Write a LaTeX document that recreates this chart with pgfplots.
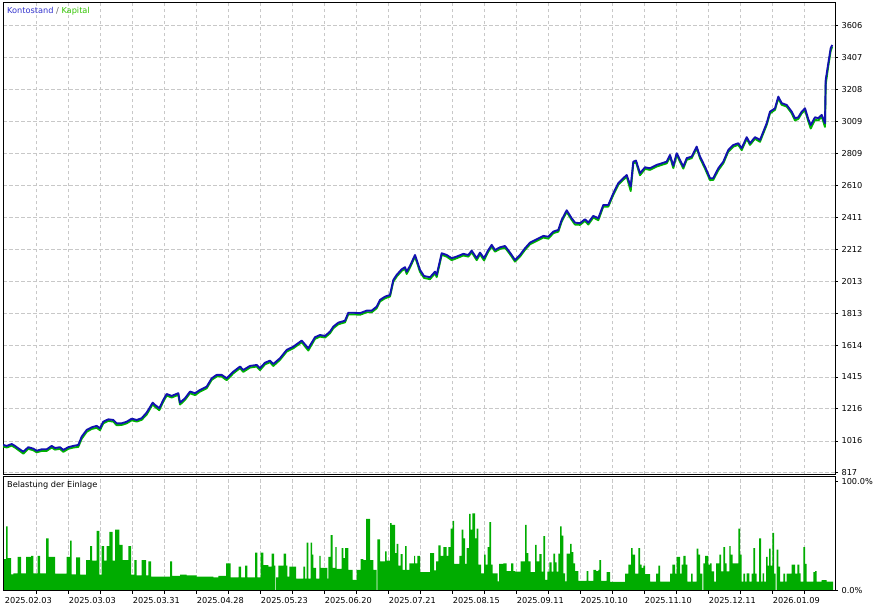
\documentclass[border=0pt]{standalone}
\usepackage{pgfplots}
\pgfplotsset{compat=1.18}
\usepackage{fontspec}
\setmainfont{DejaVu Sans}
\definecolor{bal}{RGB}{18,18,175}
\definecolor{eq}{RGB}{0,180,0}
\definecolor{load}{RGB}{0,172,0}
\definecolor{gridc}{RGB}{200,200,200}
\definecolor{legb}{RGB}{50,50,205}
\definecolor{legg}{RGB}{50,195,0}
\begin{document}
\begin{tikzpicture}[x=1pt,y=1pt]
\useasboundingbox (0,0) rectangle (876,605);
\pgfplotsset{
  mt/.style={
    scale only axis, width=832pt, xmin=3, xmax=835,
    /pgf/number format/assume math mode=true,
    ticklabel style={font=\fontsize{8.2}{9}\selectfont, text=black},
    axis line style={black, line width=1pt},
    major grid style={gridc, line width=0.9pt, dash pattern=on 3.5pt off 2.5pt},
    tick style={black, line width=0.8pt},
    major tick length=3pt, tick align=outside,
    xtick={36.3,68.3,100.3,132.3,164.3,196.3,228.3,260.3,292.3,324.3,356.3,388.3,420.3,452.3,484.3,516.3,548.3,580.3,612.3,644.3,676.3,708.3,740.3,772.3,804.3},
    xmajorgrids, ytick pos=right,
  }
}
% ---------- top panel ----------
\begin{axis}[mt, at={(3pt,130.7pt)}, anchor=south west, height=471.3pt,
  ymin=808, ymax=3748, ymajorgrids,
  xticklabels={}, xtick style={draw=none},
  ytick={817,1016,1216,1415,1614,1813,2013,2212,2411,2610,2809,3009,3208,3407,3606},
  yticklabels={817,1016,1216,1415,1614,1813,2013,2212,2411,2610,2809,3009,3208,3407,3606},
]
\addplot[eq, line width=1.9pt, line join=round] coordinates {
(3.3,981) (6.7,975) (11.7,987) (15,975) (18.3,960) (23.3,937) (28.3,967) (33.3,958) (36.7,945) (41.7,954) (46.7,954) (51.7,975) (55,962) (60,967) (63.3,948) (68.3,967) (73.3,975) (78.3,979) (81.7,1030) (86.7,1073) (91.7,1091) (96.7,1098) (100,1083) (103.3,1126) (108.3,1141) (113.3,1137) (116.7,1114) (121.7,1116) (126.7,1126) (131.7,1145) (136.7,1137) (141.7,1148) (146.7,1181) (152.7,1245) (155,1229) (159.3,1208) (163.3,1262) (166.7,1299) (171.7,1287) (178.3,1304) (180,1243) (185,1272) (190,1314) (195,1302) (200,1324) (206.7,1345) (211.7,1397) (216.7,1418) (221.7,1418) (226.7,1395) (233.3,1438) (240,1470) (243.3,1447) (250,1474) (256.7,1480) (260,1458) (265,1494) (270,1507) (273.3,1484) (280,1522) (286.7,1574) (293.3,1594) (301.7,1632) (308.3,1580) (315,1653) (320,1667) (325,1661) (330,1688) (333.3,1719) (338.3,1744) (345,1756) (348.3,1806) (353.3,1806) (360,1803) (366.7,1819) (371.7,1819) (376.7,1844) (380,1886) (385,1906) (390,1917) (393.3,2010) (396.7,2042) (401.7,2077) (405,2090) (406.7,2058) (410,2098) (415,2166) (420,2071) (424,2033) (430,2025) (435,2062) (436.7,2038) (441.7,2177) (446.7,2166) (451.7,2144) (456.7,2156) (463.3,2173) (468.3,2166) (471.7,2193) (476.7,2144) (480,2181) (484,2142) (488.3,2197) (491.7,2229) (495,2197) (500,2214) (505,2222) (510,2181) (515,2135) (520,2166) (525,2208) (530,2243) (536.7,2264) (543.3,2285) (548.3,2278) (553.3,2312) (558.3,2322) (561.7,2385) (566.7,2445) (571.7,2395) (575,2366) (580,2364) (585,2389) (588.3,2366) (593.3,2410) (598.3,2393) (603.3,2478) (608.3,2478) (613.3,2551) (618.3,2614) (623.3,2645) (626.7,2665) (630.7,2575) (633.3,2748) (636,2755) (640,2674) (645,2713) (650,2707) (656.7,2728) (661.7,2738) (666.7,2748) (670,2790) (673.3,2718) (676.7,2801) (683.3,2715) (686.7,2770) (691.7,2780) (696.7,2842) (700,2780) (705,2715) (710,2643) (713.3,2645) (718.3,2705) (723.3,2748) (728.3,2821) (733.3,2852) (738.3,2863) (741.7,2830) (746.7,2901) (750,2863) (755,2901) (760,2882) (763.3,2935) (766.7,2988) (770,3060) (775,3081) (778.3,3154) (781.7,3113) (786.7,3102) (791.7,3060) (795,3015) (798.3,3025) (801.7,3060) (805,3081) (808.3,3010) (810.7,2965) (815,3020) (818.3,3015) (821.7,3040) (825,2975) (825.7,3240) (828.3,3355) (830.7,3450) (832.3,3476)
};
\addplot[bal, line width=1.9pt, line join=round] coordinates {
(3.3,991) (6.7,985) (11.7,997) (15,985) (18.3,970) (23.3,949) (28.3,977) (33.3,968) (36.7,955) (41.7,964) (46.7,964) (51.7,985) (55,972) (60,977) (63.3,960) (68.3,977) (73.3,985) (78.3,991) (81.7,1043) (86.7,1085) (91.7,1101) (96.7,1110) (100,1095) (103.3,1136) (108.3,1151) (113.3,1147) (116.7,1126) (121.7,1126) (126.7,1136) (131.7,1155) (136.7,1147) (141.7,1158) (146.7,1193) (152.7,1255) (155,1241) (159.3,1220) (163.3,1272) (166.7,1309) (171.7,1297) (178.3,1314) (180,1255) (185,1282) (190,1324) (195,1314) (200,1334) (206.7,1355) (211.7,1407) (216.7,1428) (221.7,1428) (226.7,1407) (233.3,1448) (240,1480) (243.3,1459) (250,1484) (256.7,1490) (260,1470) (265,1504) (270,1517) (273.3,1496) (280,1532) (286.7,1584) (293.3,1604) (301.7,1642) (308.3,1594) (315,1663) (320,1677) (325,1671) (330,1698) (333.3,1729) (338.3,1754) (345,1766) (348.3,1816) (353.3,1816) (360,1813) (366.7,1829) (371.7,1829) (376.7,1854) (380,1896) (385,1916) (390,1927) (393.3,2020) (396.7,2052) (401.7,2087) (405,2100) (406.7,2072) (410,2108) (415,2176) (420,2083) (424,2045) (430,2037) (435,2072) (436.7,2052) (441.7,2187) (446.7,2176) (451.7,2156) (456.7,2166) (463.3,2183) (468.3,2176) (471.7,2203) (476.7,2156) (480,2191) (484,2156) (488.3,2207) (491.7,2239) (495,2207) (500,2224) (505,2232) (510,2191) (515,2145) (520,2176) (525,2218) (530,2253) (536.7,2274) (543.3,2295) (548.3,2290) (553.3,2322) (558.3,2332) (561.7,2395) (566.7,2455) (571.7,2405) (575,2378) (580,2374) (585,2399) (588.3,2378) (593.3,2420) (598.3,2405) (603.3,2488) (608.3,2488) (613.3,2561) (618.3,2624) (623.3,2655) (626.7,2675) (630.7,2602) (633.3,2758) (636,2765) (640,2686) (645,2723) (650,2717) (656.7,2738) (661.7,2748) (666.7,2758) (670,2800) (673.3,2732) (676.7,2811) (683.3,2727) (686.7,2780) (691.7,2790) (696.7,2852) (700,2790) (705,2727) (710,2655) (713.3,2655) (718.3,2717) (723.3,2758) (728.3,2831) (733.3,2862) (738.3,2873) (741.7,2842) (746.7,2911) (750,2873) (755,2911) (760,2894) (763.3,2945) (766.7,2998) (770,3070) (775,3091) (778.3,3164) (781.7,3123) (786.7,3112) (791.7,3070) (795,3029) (798.3,3035) (801.7,3070) (805,3091) (808.3,3023) (810.7,2987) (815,3035) (818.3,3029) (821.7,3050) (825,2998) (825.7,3268) (828.3,3372) (830.7,3466) (832.3,3486)
};
\node[anchor=west, inner sep=0pt, font=\fontsize{8.2}{9}\selectfont] at (rel axis cs:0,1) [xshift=4pt, yshift=-8.5pt]
  {\textcolor{legb}{Kontostand}\textcolor{black!60}{\ /\ }\textcolor{legg}{Kapital}};
\end{axis}
% ---------- bottom panel ----------
\begin{axis}[mt, at={(3pt,14.3pt)}, anchor=south west, height=114pt,
  ymin=0, ymax=104.6,
  xtick pos=bottom,
  xticklabels={2025.02.03,,2025.03.03,,2025.03.31,,2025.04.28,,2025.05.23,,2025.06.20,,2025.07.21,,2025.08.15,,2025.09.11,,2025.10.10,,2025.11.10,,2025.12.11,,2026.01.09},
  xticklabel style={xshift=-8pt},
  ytick={0,100}, yticklabels={0.0\%,100.0\%},
]
\addplot[const plot mark left, fill=load, draw=none] coordinates {
(3.3,29) (6,59) (7.7,30) (11,15) (13.3,16) (17.7,31) (21,16) (26,31) (31,32) (33.3,16) (37.7,32) (40,16) (46,48) (48.7,31) (55,15.6) (66.7,31) (70,46) (71.7,15) (76,30.6) (80,14.7) (86,28) (90,41) (92,27.5) (96.7,55) (99.3,14.7) (101.7,41) (104,27.5) (106.7,41) (109.3,54) (112.7,27.5) (115,56) (119.3,42) (122.7,28) (128.3,41) (131,14.7) (134.3,28) (136.7,14) (141.7,28) (146,14) (148.3,27) (151,13) (170,27) (172,13.5) (180,14.7) (186.7,14) (196.7,12.8) (213.3,12.2) (218.3,13.5) (226,25) (230.7,12.2) (238.7,22) (241,12.2) (245,23) (247.3,12.2) (255,35) (257.3,12.2) (260.7,35) (263.3,23.5) (268.3,22) (271.7,34) (274,23) (275.3,0) (276,12.2) (278.3,23)
(283.5,34) (286,23) (287.3,13) (289.3,22) (296,11) (303.3,22) (305,11) (306.7,44) (308.3,11) (310.7,44) (312,33) (313.3,21) (316,11) (319.3,32) (320.7,21) (327.3,11) (328.3,31) (330.7,51) (332.7,21) (335.3,40) (336.7,20) (341.7,39) (343.3,30) (345,39) (348.3,19) (352.7,10) (356.7,19) (360.7,29) (363.3,28) (366,66) (370,28) (373.3,19) (376.7,0) (377.3,47) (380,27) (385,36) (386.7,27.5) (390,62) (391.7,60.5) (395,34.5) (396.7,43) (398.3,23) (400.7,33.6) (402.7,19) (405,41) (406.7,19) (409.3,25) (414,32) (415,25) (417.3,32) (420,17) (430,34.5) (434,18.7) (436,27) (438.3,41.6) (440.7,32) (443.3,40) (446.7,32) (448.3,40) (450.7,57) (452.7,64) (454,24.5) (459.3,32) (461.7,56) (463.3,48) (465,24.5) (466.7,39) (469,70.6) (470.7,56) (472.3,71) (475,48) (476.7,57) (478.3,24) (481,16) (484,33) (485.7,24) (487.7,40) (489.3,63) (491,24) (492.7,16) (497.7,8.6) (499,24.5) (503.3,25) (506.7,18) (511,25) (513.3,18) (515,17.4) (520.7,27) (525,60.5) (526.7,34.5) (528.3,27) (530.7,17) (535,42) (536.7,27) (539.3,33.6) (541.7,17.4) (543.3,50) (545,10) (547.3,17.4) (549.3,26) (551.7,17.4) (553.3,34) (555,26) (556.7,17.4) (558.3,34)
(560,59) (561.7,50.5) (563.3,16) (565,8.6) (566.7,34) (570,43) (571.7,35.5) (573.3,25) (575,18) (578.3,9) (586.7,18) (588.3,9) (593.3,19) (596,18) (598.3,19) (599.3,28) (601,9) (606.7,17) (610,8) (625,15.6) (628.3,24) (631,39) (632.7,33) (635,15.6) (638.3,39) (640,24) (641.7,21) (643.3,23) (645,15.3) (650,8.3) (656,15.6) (658.3,23) (660,8.3) (670,15.6) (672.3,24) (675,15.6) (676.7,31) (680,15.6) (681.7,24) (683.3,32) (685.7,24) (687.3,8.3) (691,15.6) (692.7,8.3) (696.7,38.5) (698.3,33) (700,15.6) (702.3,0) (703.3,25) (705,32) (708.3,24) (710,25) (711.7,17.7) (714,8.3) (716,25) (719.3,33) (721,17.7) (723.3,40) (725,25) (726.7,17.7) (729.3,41) (730.7,33) (732.7,25) (738.3,57) (740,33) (741.7,8.3) (743.3,15.6) (745,8.3) (746.7,16) (749.3,8.3) (751.7,15.6) (753.3,39) (755,15.6) (756.7,8.3) (759,48) (761,8.3) (762.7,16) (764,8.3) (766,31) (767.7,23) (769,38.5) (770.7,23) (772.3,53) (774,15.6) (775.7,0) (776.7,37.6) (778.3,22) (780,8.3) (783.3,15.6) (785,8.3) (786.7,15.6) (791.7,24) (795,15.6) (797.3,24) (799.3,16) (800.7,8.3) (803.3,40) (805,24.5) (806.7,8.3) (813.3,17) (815,18) (816.7,8.3) (821.7,9.8) (826.7,8.3) (833,8.3)
} \closedcycle;
\draw[black, line width=1pt] (rel axis cs:0,0) rectangle (rel axis cs:1,1);
\node[anchor=west, inner sep=0pt, font=\fontsize{8.2}{9}\selectfont] at (rel axis cs:0,1) [xshift=4pt, yshift=-8.5pt] {Belastung der Einlage};
\end{axis}
\end{tikzpicture}
\end{document}
